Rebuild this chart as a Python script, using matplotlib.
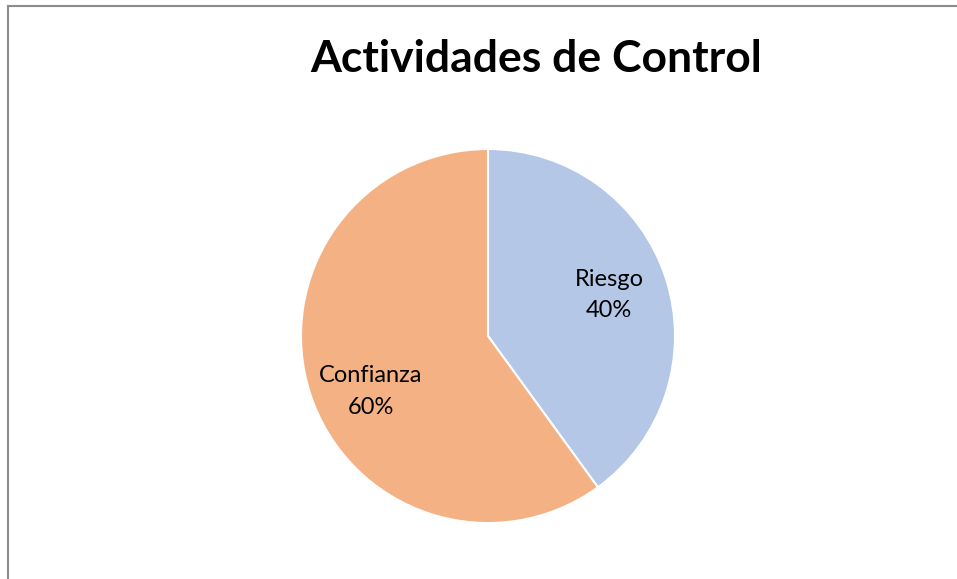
import matplotlib
matplotlib.use("Agg")
import matplotlib.pyplot as plt
from matplotlib.lines import Line2D

# chart data
categories = ["Riesgo", "Confianza"]
shares = [40, 60]
colors = ["#B4C7E7", "#F4B183"]
title = "Actividades de Control"

plt.rcParams["font.family"] = ["Lato", "DejaVu Sans"]

fig = plt.figure(figsize=(9.57, 5.79), dpi=100)

# grey chart border (only top and left edge visible in the crop)
fig.add_artist(Line2D([8 / 957, 8 / 957], [0, 1 - 6 / 579], color="#8c8c8c", lw=1.5))
fig.add_artist(Line2D([8 / 957, 1.01], [1 - 6 / 579, 1 - 6 / 579], color="#8c8c8c", lw=1.5))

cx, cy, r = 488, 336, 187
ax = fig.add_axes([(cx - r) / 957, (579 - cy - r) / 579, 2 * r / 957, 2 * r / 579])


def make_label(pct, names=iter(categories)):
    return f"{next(names)}\n{pct:.0f}%"


wedges, texts, autotexts = ax.pie(shares, colors=colors, startangle=90, counterclock=False,
                                  wedgeprops={"edgecolor": "white", "linewidth": 1.5},
                                  autopct=make_label, pctdistance=0.69,
                                  textprops={"fontsize": 17, "color": "#000000",
                                             "linespacing": 1.6})
# Excel nudges the labels a little off the wedge bisector
autotexts[0].set_position((0.647, 0.22))
autotexts[1].set_position((-0.626, -0.297))
ax.set_xlim(-1, 1)
ax.set_ylim(-1, 1)
ax.set_aspect("equal")

fig.text(536 / 957, 1 - 59 / 579, title, ha="center", va="center",
         fontsize=32, fontweight="bold")

fig.savefig("out.png", dpi=100)
